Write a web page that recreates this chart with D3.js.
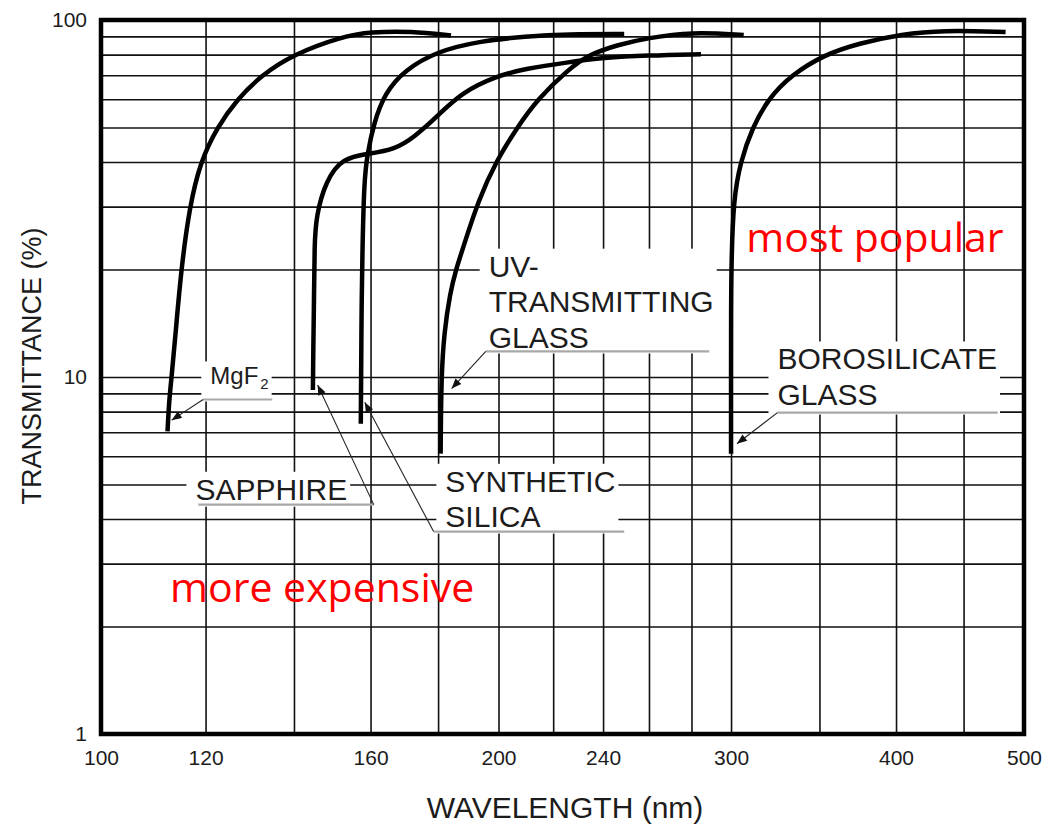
<!DOCTYPE html>
<html>
<head>
<meta charset="utf-8">
<script src="https://cdn.jsdelivr.net/npm/d3@7"></script>
<style>
  body { margin: 0; background: #fff; }
  svg { display: block; font-family: "Liberation Sans", Arial, Helvetica, sans-serif; }
</style>
</head>
<body>
<svg id="chart" width="1048" height="827"></svg>
<script>
// ---- axis ticks and grid ----
const xTickLabels = [100, 120, 160, 200, 240, 300, 400, 500];
const xGridValues = [120, 140, 160, 180, 200, 220, 240, 260, 280, 300, 350, 400, 450];
const yTickLabels = [1, 10, 100];
const yGridValues = [2, 3, 4, 5, 6, 7, 8, 9, 10, 20, 30, 40, 50, 60, 70, 80, 90];

// ---- transmittance curves: [wavelength nm, transmittance %] ----
const mgf2 = [[112.3,7.04],[112.6,8.55],[113.1,10],[113.9,13.3],[115.0,20],[116.7,30],[118.9,40],[122.4,50],
  [126.8,60],[132.3,70],[139.7,80],[152.4,90],[160.0,92.6],[171.7,93.0],[184.1,90.5]];
const sapphire = [[144.7,9.2],[144.8,12],[145.0,17],[145.1,23.4],[145.5,28.2],[148.0,35.5],[152.4,41.1],
  [159.5,42.2],[166.9,43.4],[172.7,47.0],[179.7,53.7],[187.5,62.6],[199.1,69.6],[209.8,73.1],[225.6,76.1],
  [240.0,78.4],[259.3,79.6],[284.7,80.2]];
const syntheticSilica = [[157.3,7.4],[157.4,10],[157.5,15],[157.7,21.3],[158.2,35.5],[159.1,42.0],[160.9,51.4],
  [164.1,62.6],[169.8,72.4],[179.7,81.7],[193.2,87.2],[209.8,90.0],[225.6,91.3],[249.0,91.3]];
const uvGlass = [[180.8,6.1],[181.0,10],[181.9,13.3],[183.8,17.2],[185.7,20],[188.0,23],[193.2,31.4],
  [199.1,40.1],[206.6,50],[214.1,60],[225.6,72.4],[234.0,80],[246.4,85.3],[259.3,89.0],[280.0,92.6],[306.7,90.8]];
const borosilicate = [[300,6.1],[300,10],[300,15],[300.2,21.3],[301.3,31.4],[304.9,40],[311.4,50],[320.0,60],
  [333.0,70],[353.0,80],[375.5,86.2],[404.2,91.3],[433.4,93.6],[484.2,92.6]];

// ---- curve labels (text lines, "|" marks a subscript) ----
const labelLines = [["MgF|2"], ["SAPPHIRE"], ["SYNTHETIC", "SILICA"], ["UV-", "TRANSMITTING", "GLASS"], ["BOROSILICATE", "GLASS"]];
const labelAt = [[121.0, 9.53], [117.9, 4.53], [182.3, 4.77], [196.6, 19.1], [325.3, 10.5]];
const underlineFrom = [119.5, 118.5, 178.6, 195.6, 325.3];
const underlineTo = [134.8, 160.9, 249.0, 288.8, 477.6];
const underlineAt = [8.65, 4.39, 3.69, 11.79, 7.95];
const leaderStartsAtEnd = [false, true, false, false, false];
const arrowTip = [[113.1, 7.57], [145.9, 9.5], [158.4, 8.5], [184.3, 9.28], [303.1, 6.5]];

// ---- red remarks ----
const remarks = ["most popular", "more expensive"];
const remarkAt = [[308.1, 22.35], [112.8, 2.35]];

const svg = d3.select("#chart");
const plotL = 101, plotR = 1024, plotT = 20, plotB = 734;

const x = d3.scaleLog().domain([100, 500]).range([plotL, plotR]);
const y = d3.scaleLog().domain([1, 100]).range([plotB, plotT]);

// grid
const gridX = svg.append("g").attr("transform", `translate(0,${plotB})`)
  .call(d3.axisBottom(x).tickValues(xGridValues).tickSize(-(plotB - plotT)).tickFormat(""));
const gridY = svg.append("g").attr("transform", `translate(${plotL},0)`)
  .call(d3.axisLeft(y).tickValues(yGridValues).tickSize(-(plotR - plotL)).tickFormat(""));
[gridX, gridY].forEach(g => {
  g.select(".domain").remove();
  g.selectAll("line").attr("stroke", "#111").attr("stroke-width", 1.6);
});

// tick labels
const axX = svg.append("g").attr("transform", `translate(0,${plotB})`)
  .call(d3.axisBottom(x).tickValues(xTickLabels).tickFormat(d3.format("d")).tickSize(0).tickPadding(16));
const axY = svg.append("g").attr("transform", `translate(${plotL},0)`)
  .call(d3.axisLeft(y).tickValues(yTickLabels).tickFormat(d3.format("d")).tickSize(0).tickPadding(14));
[axX, axY].forEach(g => {
  g.select(".domain").remove();
  g.selectAll("text").attr("font-size", 21).attr("fill", "#1c1c1c")
    .attr("font-family", "'Liberation Sans', Arial, sans-serif");
});

// axis titles
svg.append("text").attr("x", 565).attr("y", 818)
  .attr("text-anchor", "middle").attr("font-size", 30).attr("fill", "#1c1c1c")
  .text("WAVELENGTH (nm)");
svg.append("text").attr("transform", `translate(41,366) rotate(-90)`)
  .attr("text-anchor", "middle").attr("font-size", 27).attr("fill", "#1c1c1c")
  .text("TRANSMITTANCE (%)");

// label backgrounds (sized after the text is measured)
const boxLayer = svg.append("g");

// curves
const line = d3.line().x(d => x(d[0])).y(d => y(d[1])).curve(d3.curveBasis);
const curves = [mgf2, sapphire, syntheticSilica, uvGlass, borosilicate];
svg.append("g").selectAll("path").data(curves).join("path")
  .attr("d", line).attr("fill", "none").attr("stroke", "#000").attr("stroke-width", 4.5);

// frame
svg.append("rect").attr("x", plotL).attr("y", plotT).attr("width", plotR - plotL).attr("height", plotB - plotT)
  .attr("fill", "none").attr("stroke", "#000").attr("stroke-width", 4.5);

// arrowhead
svg.append("defs").append("marker").attr("id", "arrow")
  .attr("viewBox", "0 0 10 8").attr("refX", 10).attr("refY", 4)
  .attr("markerWidth", 11).attr("markerHeight", 8).attr("markerUnits", "userSpaceOnUse")
  .attr("orient", "auto")
  .append("path").attr("d", "M0,0 L10,4 L0,8 Z").attr("fill", "#111");

// curve labels
const labelLayer = svg.append("g");
labelLines.forEach((lines, i) => {
  const g = labelLayer.append("g");
  const tx = x(labelAt[i][0]), ty = y(labelAt[i][1]);
  const t = g.append("text").attr("x", tx).attr("y", ty).attr("fill", "#1c1c1c");
  lines.forEach((ln, k) => {
    const parts = ln.split("|");
    t.append("tspan").attr("x", tx).attr("dy", k === 0 ? 0 : 35.5).text(parts[0]);
    if (parts.length > 1) {
      t.attr("font-size", 24);
      t.append("tspan").attr("font-size", 15).attr("dy", 5).attr("dx", 2).text(parts[1]);
    } else {
      t.attr("font-size", 30);
    }
  });
  const bb = t.node().getBBox();
  const ux1 = x(underlineFrom[i]), ux2 = x(underlineTo[i]), uy = y(underlineAt[i]);
  const bx1 = bb.x - 9, bx2 = bb.x + bb.width + 3;
  boxLayer.append("rect").attr("x", bx1).attr("y", bb.y - 1)
    .attr("width", bx2 - bx1).attr("height", uy - bb.y + 3).attr("fill", "#fff");
  g.append("line").attr("x1", ux1).attr("x2", ux2).attr("y1", uy).attr("y2", uy)
    .attr("stroke", "#a8a8a8").attr("stroke-width", 2.2);
  const sx = leaderStartsAtEnd[i] ? ux2 : ux1;
  g.append("line").attr("x1", sx).attr("y1", uy)
    .attr("x2", x(arrowTip[i][0])).attr("y2", y(arrowTip[i][1]))
    .attr("stroke", "#222").attr("stroke-width", 1.1).attr("marker-end", "url(#arrow)");
});

// red remarks
svg.append("g").selectAll("text").data(remarks).join("text")
  .attr("x", (d, i) => x(remarkAt[i][0])).attr("y", (d, i) => y(remarkAt[i][1]))
  .attr("font-family", "'Open Sans', 'Noto Sans', sans-serif").attr("font-size", 41)
  .attr("fill", "#ff0000").text(d => d);
</script>
</body>
</html>
